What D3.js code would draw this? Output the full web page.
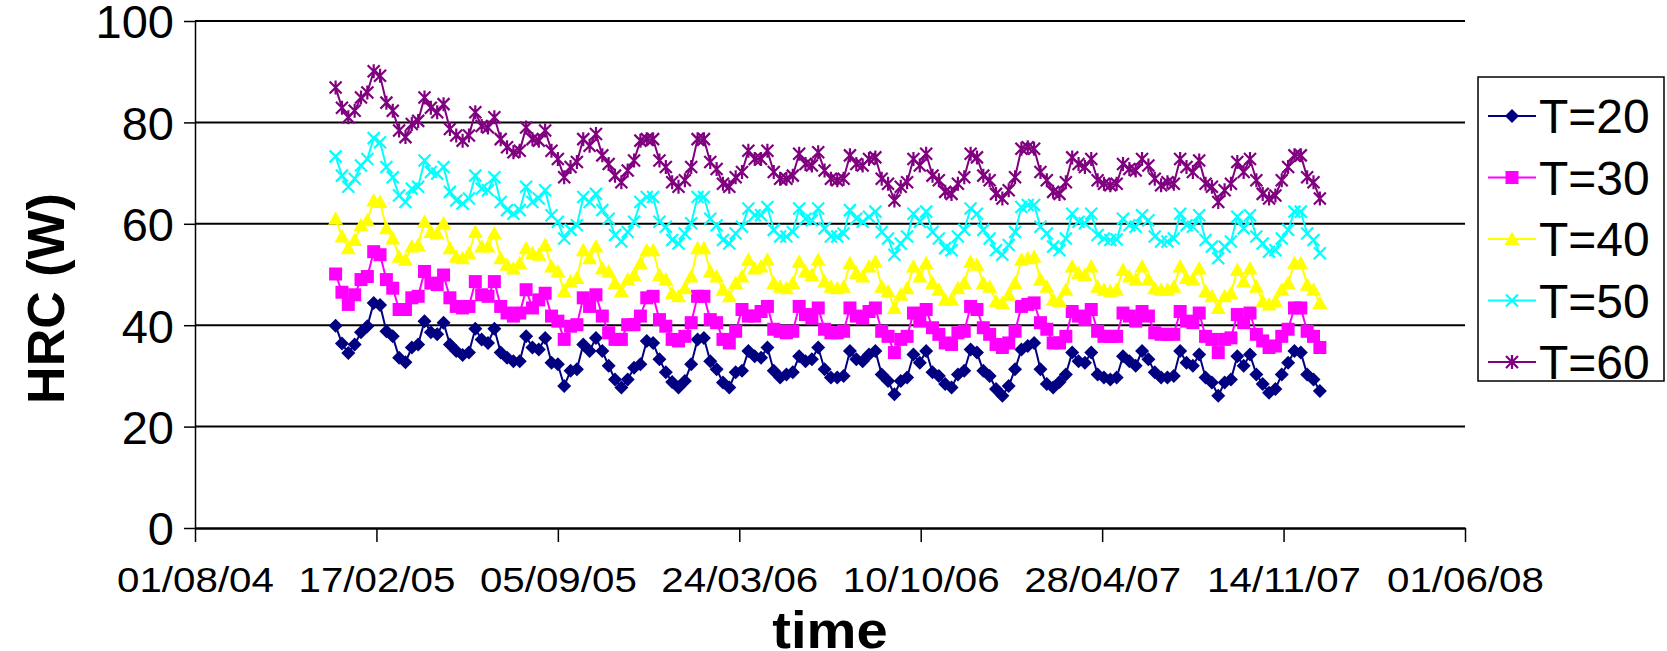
<!DOCTYPE html>
<html>
<head>
<meta charset="utf-8">
<script src="https://cdn.jsdelivr.net/npm/d3@7"></script>
<style>
  body { margin: 0; background: #fff; }
  text { font-family: "Liberation Sans", Arial, sans-serif; fill: #000; }
</style>
</head>
<body>
<div id="chart"></div>
<script>
// weekly readings, first one on 03/01/05
var startDate = "03/01/05";
var xTickLabels = ["01/08/04", "17/02/05", "05/09/05", "24/03/06", "10/10/06", "28/04/07", "14/11/07", "01/06/08"];
var yTicks = [0, 20, 40, 60, 80, 100];
var seriesNames = ["T=20", "T=30", "T=40", "T=50", "T=60"];
var seriesColors = ["#000080", "#ff00ff", "#ffff00", "#00ffff", "#800080"];

var t20 = [39.9,36.4,34.5,36.2,38.6,39.8,44.4,44.0,38.8,37.8,
  33.6,32.7,35.6,36.2,40.8,38.6,38.2,40.5,36.2,34.9,
  34.1,34.6,39.3,37.2,36.5,39.3,34.6,33.6,32.9,32.9,
  37.8,35.6,35.2,37.5,32.6,32.3,28.0,31.0,31.3,36.2,
  34.9,37.5,34.9,32.0,29.3,27.7,29.3,31.6,32.3,36.9,
  36.5,33.3,30.7,28.8,27.7,29.0,32.3,37.2,37.5,32.9,
  31.3,28.7,27.7,30.7,31.0,34.9,33.9,33.6,35.6,31.0,
  29.7,30.3,30.7,33.9,32.9,33.3,35.6,31.3,29.7,29.7,
  30.0,34.9,33.3,32.9,34.2,34.9,30.3,29.0,26.4,29.0,
  29.7,34.2,32.6,34.9,30.7,30.0,28.4,27.7,30.3,31.0,
  35.2,34.6,31.0,30.0,27.4,26.1,28.0,31.3,35.2,35.9,
  36.5,31.3,28.4,27.7,28.8,30.3,34.6,32.9,32.6,34.6,
  30.3,29.7,29.3,29.7,33.9,32.9,32.0,34.9,33.3,30.7,
  29.7,29.7,30.0,34.9,32.6,32.0,34.2,29.7,28.7,26.1,
  28.7,29.3,33.9,32.0,34.2,30.3,28.4,26.7,27.4,30.3,
  32.6,34.9,34.6,30.3,29.3,27.0];

var t30 = [50.1,46.5,44.1,46.0,49.0,49.6,54.5,53.9,49.0,47.3,
  43.1,43.1,45.4,45.7,50.6,48.3,48.0,49.9,45.4,43.7,
  43.4,43.7,48.6,46.0,45.7,48.6,43.7,42.4,41.8,42.4,
  47.0,43.4,45.0,46.3,41.8,40.8,37.2,39.8,40.1,45.4,
  43.7,46.0,41.8,38.5,37.2,37.2,40.1,40.1,41.8,45.4,
  45.7,41.1,39.8,37.2,36.9,37.8,40.5,45.7,45.7,41.1,
  40.5,37.2,36.5,38.8,43.1,41.8,41.8,42.7,43.7,39.2,
  38.8,38.5,38.8,43.7,42.1,41.4,43.4,39.2,38.5,38.5,
  38.8,43.4,41.8,41.4,42.7,43.4,38.8,37.8,34.6,37.2,
  37.8,42.4,40.8,43.1,39.5,38.2,36.5,36.2,38.5,38.8,
  43.7,43.1,39.5,38.2,36.2,35.6,36.5,38.8,43.7,44.1,
  44.4,40.5,39.2,36.5,36.5,37.8,42.7,41.8,41.1,43.1,
  38.8,37.8,37.8,37.8,42.4,41.8,40.8,42.7,41.8,38.5,
  38.2,38.2,38.2,42.7,40.8,40.5,42.4,37.8,37.2,34.6,
  37.2,37.5,42.1,40.5,42.4,38.2,36.9,35.6,35.9,37.8,
  39.2,43.4,43.4,38.8,37.8,35.6];

var t40 = [61.0,57.5,55.2,56.8,59.7,60.7,64.6,64.3,59.1,57.1,
  53.5,52.9,55.5,55.8,60.4,58.4,58.1,60.1,55.2,53.5,
  53.2,54.2,58.4,55.5,55.5,58.1,53.2,51.9,51.2,52.2,
  55.2,54.2,53.9,55.8,51.6,50.6,46.7,48.6,49.3,54.8,
  53.2,55.5,51.2,50.6,48.3,46.7,49.0,49.9,52.2,54.8,
  54.8,49.9,49.0,46.3,45.7,47.3,49.6,55.2,55.2,50.6,
  49.6,47.0,45.7,48.3,49.6,52.9,51.2,51.6,52.9,48.3,
  47.6,47.3,48.3,52.5,50.6,49.9,52.9,48.6,47.6,47.3,
  47.6,52.2,50.3,49.6,51.6,52.5,47.6,46.7,43.4,46.0,
  47.3,51.6,49.6,52.2,48.3,47.0,45.0,45.0,47.3,48.3,
  52.5,51.9,48.3,47.6,44.7,44.4,46.0,48.3,52.9,53.2,
  53.5,49.0,47.6,45.0,44.7,47.0,51.6,50.3,49.9,51.6,
  47.6,47.0,46.7,47.0,50.9,49.6,49.0,51.6,49.0,47.3,
  47.0,47.0,47.6,51.6,49.3,49.0,51.2,46.7,45.7,43.4,
  45.7,46.3,50.9,48.6,51.2,47.6,44.7,44.1,44.7,47.0,
  48.3,52.2,52.2,48.0,47.0,44.4];

var t50 = [73.3,69.5,67.3,68.9,71.5,72.8,76.9,76.1,71.2,69.2,
  65.6,64.3,66.9,67.3,72.5,70.2,69.9,71.2,66.3,64.6,
  64.0,65.0,69.5,66.9,66.6,69.2,64.3,62.7,62.0,62.7,
  67.3,64.3,65.0,66.6,61.7,60.4,57.1,58.8,59.7,65.3,
  64.3,65.9,62.7,61.0,57.8,56.5,58.4,60.4,64.3,65.3,
  65.3,60.4,59.4,56.8,56.1,58.1,60.1,65.3,65.3,61.0,
  59.7,56.8,56.1,58.1,59.4,63.0,61.7,61.7,63.3,58.8,
  57.5,57.5,58.4,63.0,61.0,60.7,63.0,59.1,57.5,57.5,
  58.1,62.7,61.0,60.4,61.4,62.4,58.4,57.1,53.9,56.1,
  57.5,62.0,60.4,62.4,58.4,57.1,55.2,54.8,57.5,58.8,
  63.0,62.0,58.8,57.1,54.8,53.9,55.8,58.4,63.3,63.7,
  63.7,59.4,58.1,55.5,54.8,57.1,62.0,60.4,60.1,62.0,
  57.8,57.1,56.8,56.9,61.0,59.7,59.4,61.7,60.7,57.5,
  56.5,56.5,57.1,62.0,59.7,59.4,61.7,56.8,55.5,53.2,
  55.5,56.5,61.4,59.1,61.7,57.5,56.1,54.5,54.8,57.1,
  58.8,62.4,62.4,58.1,56.8,54.2];

var t60 = [86.9,82.9,81.0,82.3,84.9,85.9,90.1,89.2,83.9,82.3,
  78.4,77.1,79.7,80.3,84.9,82.9,82.0,83.6,78.7,77.4,
  76.4,77.4,82.0,79.3,79.0,81.0,76.7,75.1,74.1,74.4,
  79.0,76.7,76.4,78.4,74.4,72.8,69.2,71.2,72.2,76.7,
  75.4,77.7,73.5,71.8,69.5,68.2,70.5,72.5,76.4,76.7,
  76.7,72.5,71.2,68.2,67.3,68.6,71.2,76.7,76.7,72.2,
  70.8,67.9,67.3,69.2,70.2,74.4,72.8,72.8,74.4,70.2,
  68.9,68.9,69.5,73.8,71.8,71.5,74.1,70.5,68.9,68.6,
  68.9,73.5,71.8,71.5,72.8,73.1,68.9,67.9,64.6,67.3,
  68.2,72.8,71.5,73.8,69.5,68.6,66.3,65.9,67.9,69.2,
  73.8,73.1,69.5,68.6,65.9,65.0,66.6,69.2,74.8,75.1,
  74.8,70.2,68.6,66.3,65.9,68.2,73.1,71.8,71.2,72.8,
  68.6,67.9,67.6,67.9,71.8,70.8,70.5,72.8,71.5,68.9,
  67.6,68.2,67.9,72.8,71.2,70.2,72.5,67.9,67.3,64.3,
  66.6,67.9,72.2,70.2,72.8,68.6,65.9,65.0,65.6,68.6,
  71.2,73.5,73.5,69.2,68.2,65.0];

var allSeries = [t20, t30, t40, t50, t60];

var W = 1667, H = 651;
var plotL = 195, plotR = 1465, plotT = 21, plotB = 528;

var parse = d3.timeParse("%d/%m/%y");
var fmt = d3.timeFormat("%d/%m/%y");
var xTicks = xTickLabels.map(parse);
var first = parse(startDate);

var x = d3.scaleTime().domain([xTicks[0], xTicks[xTicks.length - 1]]).range([plotL, plotR]);
var y = d3.scaleLinear().domain([0, 100]).range([plotB, plotT]);

var svg = d3.select("#chart").append("svg").attr("width", W).attr("height", H);

// gridlines
svg.append("g").selectAll("line").data(yTicks.filter(function(d){ return d > 0; }))
  .enter().append("line")
  .attr("x1", plotL).attr("x2", plotR)
  .attr("y1", function(d){ return y(d); }).attr("y2", function(d){ return y(d); })
  .attr("stroke", "#000").attr("stroke-width", 2);

// y axis
var yAxis = svg.append("g").attr("transform", "translate(" + plotL + ",0)")
  .call(d3.axisLeft(y).tickValues(yTicks).tickSize(11).tickSizeOuter(0).tickPadding(10));
yAxis.selectAll("text").style("font-size", "47px").attr("dy", "0.36em");
yAxis.select(".domain").attr("stroke-width", 1.5);
yAxis.selectAll(".tick line").attr("stroke-width", 1.5);

// x axis
var xAxis = svg.append("g").attr("transform", "translate(0," + plotB + ")")
  .call(d3.axisBottom(x).tickValues(xTicks).tickFormat(fmt).tickSize(14).tickSizeOuter(0).tickPadding(24));
xAxis.selectAll("text").style("font-size", "36px").attr("transform", "scale(1.12,1)");
xAxis.select(".domain").attr("stroke-width", 2.5);
xAxis.selectAll(".tick line").attr("stroke-width", 1.5);

// axis titles
svg.append("text").attr("transform", "translate(" + ((plotL + plotR) / 2) + ",648) scale(1.1,1)")
  .attr("text-anchor", "middle").style("font-size", "51px").style("font-weight", "bold")
  .text("time");
svg.append("text").attr("transform", "translate(64," + ((plotT + plotB) / 2 + 24) + ") rotate(-90)")
  .attr("text-anchor", "middle").style("font-size", "52px").style("font-weight", "bold")
  .text("HRC (W)");

// marker shapes
function markerPath(k) {
  if (k === 0) return "M0,-7L7,0L0,7L-7,0Z";
  if (k === 1) return "M-6.5,-6.5H6.5V6.5H-6.5Z";
  if (k === 2) return "M0,-7.5L7.5,6L-7.5,6Z";
  if (k === 3) return "M-6,-6L6,6M-6,6L6,-6";
  return "M-6,-6L6,6M-6,6L6,-6M0,-7L0,7";
}
function styleMarker(sel, k) {
  if (k >= 3) {
    sel.attr("fill", "none").attr("stroke", seriesColors[k]).attr("stroke-width", 2.2);
  } else {
    sel.attr("fill", seriesColors[k]).attr("stroke", "none");
  }
}

var line = d3.line()
  .x(function(d, i){ return x(d3.timeDay.offset(first, 7 * i)); })
  .y(function(d){ return y(d); });

allSeries.forEach(function(vals, k) {
  var g = svg.append("g");
  g.append("path").attr("d", line(vals)).attr("fill", "none")
    .attr("stroke", seriesColors[k]).attr("stroke-width", 2);
  var m = g.selectAll("path.mk").data(vals).enter().append("path").attr("class", "mk")
    .attr("d", markerPath(k))
    .attr("transform", function(d, i){
      return "translate(" + x(d3.timeDay.offset(first, 7 * i)) + "," + y(d) + ")";
    });
  styleMarker(m, k);
});

// legend
var lg = svg.append("g");
lg.append("rect").attr("x", 1478).attr("y", 77).attr("width", 186).attr("height", 304)
  .attr("fill", "#fff").attr("stroke", "#000").attr("stroke-width", 1.5);
seriesNames.forEach(function(name, k) {
  var cy = 116 + k * 61.5;
  lg.append("line").attr("x1", 1488).attr("x2", 1536).attr("y1", cy).attr("y2", cy)
    .attr("stroke", seriesColors[k]).attr("stroke-width", 2);
  var m = lg.append("path").attr("d", markerPath(k)).attr("transform", "translate(1512," + cy + ")");
  styleMarker(m, k);
  lg.append("text").attr("x", 1539).attr("y", cy + 17).style("font-size", "48px").text(name);
});
</script>
</body>
</html>
